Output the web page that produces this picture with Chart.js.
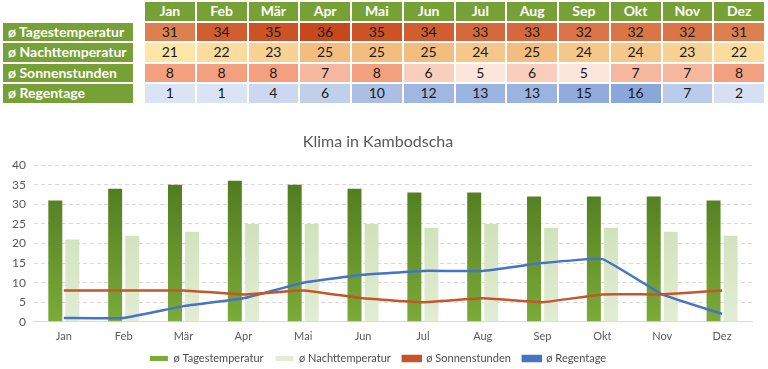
<!DOCTYPE html>
<html>
<head>
<meta charset="utf-8">
<script src="https://cdn.jsdelivr.net/npm/chart.js@4/dist/chart.umd.min.js"></script>
<style>
    html, body { margin: 0; padding: 0; background: #fff; width: 768px; height: 369px; overflow: hidden; font-family: Lato, sans-serif; }
    #tableWrap { position: absolute; left: 1px; top: 0; }
    table { border-collapse: separate; border-spacing: 2px; table-layout: fixed; }
    td { height: 18.5px; padding: 0; font-size: 14px; text-align: center; line-height: 18px; color: #1a1a1a; }
    td.lbl { width: 130px; background: #77a136; color: #fff; font-weight: bold; text-align: left; padding-left: 5px; box-sizing: border-box; }
    td.sp { width: 8px; }
    td.mon { width: 49.75px; background: #77a136; color: #fff; font-weight: bold; }
    td.val { width: 49.75px; }
    #chartWrap { position: absolute; left: 0; top: 112px; width: 768px; height: 262px; }
</style>
</head>
<body>
<div id="tableWrap"><table id="climateTable"></table></div>
<div id="chartWrap"><canvas id="klimaChart"></canvas></div>
<script>
    const months = ['Jan', 'Feb', 'Mär', 'Apr', 'Mai', 'Jun', 'Jul', 'Aug', 'Sep', 'Okt', 'Nov', 'Dez'];
    const tagesTemp = [31, 34, 35, 36, 35, 34, 33, 33, 32, 32, 32, 31];
    const nachtTemp = [21, 22, 23, 25, 25, 25, 24, 25, 24, 24, 23, 22];
    const sonnenStunden = [8, 8, 8, 7, 8, 6, 5, 6, 5, 7, 7, 8];
    const regenTage = [1, 1, 4, 6, 10, 12, 13, 13, 15, 16, 7, 2];
    const yTicks = [0, 5, 10, 15, 20, 25, 30, 35, 40];

    // Tabelle mit Farbskala pro Zeile
    const rows = [
        { label: 'ø Tagestemperatur', data: tagesTemp, low: [221, 128, 80], high: [199, 72, 28] },
        { label: 'ø Nachttemperatur', data: nachtTemp, low: [253, 230, 168], high: [243, 189, 128] },
        { label: 'ø Sonnenstunden', data: sonnenStunden, low: [252, 229, 218], high: [242, 160, 128] },
        { label: 'ø Regentage', data: regenTage, low: [219, 228, 244], high: [139, 167, 218] },
    ];

    function mix(low, high, t) {
        return 'rgb(' + low.map((c, i) => Math.round(c + (high[i] - c) * t)).join(',') + ')';
    }

    const table = document.getElementById('climateTable');
    let head = '<tr><td class="sp" style="width:130px"></td><td class="sp"></td>';
    months.forEach(m => { head += `<td class="mon">${m}</td>`; });
    table.innerHTML = head + '</tr>';
    rows.forEach(row => {
        const min = Math.min(...row.data);
        const max = Math.max(...row.data);
        let tr = `<tr><td class="lbl">${row.label}</td><td class="sp"></td>`;
        row.data.forEach(v => {
            tr += `<td class="val" style="background:${mix(row.low, row.high, (v - min) / (max - min))}">${v}</td>`;
        });
        table.innerHTML += tr + '</tr>';
    });

    // Verläufe für die Balken
    function gradient(ctx, top, bottom) {
        const area = ctx.chart.chartArea;
        if (!area) return bottom;
        const g = ctx.chart.ctx.createLinearGradient(0, area.top, 0, area.bottom);
        g.addColorStop(0, top);
        g.addColorStop(1, bottom);
        return g;
    }

    // Legende näher an die Achse rücken (weniger Abstand oben)
    const legendShift = 10;
    const tightLegend = {
        id: 'tightLegend',
        beforeInit(chart) {
            const fit = chart.legend.fit;
            chart.legend.fit = function () {
                fit.call(this);
                this.height -= legendShift;
            };
        },
        afterLayout(chart) {
            chart.legend.top -= legendShift;
            chart.legend.bottom -= legendShift;
        },
    };

    new Chart(document.getElementById('klimaChart'), {
        data: {
            labels: months,
            datasets: [
                {
                    type: 'bar', label: 'ø Tagestemperatur', data: tagesTemp, order: 2,
                    backgroundColor: ctx => gradient(ctx, '#4b761d', '#7bab38'),
                    categoryPercentage: 0.57, barPercentage: 0.82,
                },
                {
                    type: 'bar', label: 'ø Nachttemperatur', data: nachtTemp, order: 2,
                    backgroundColor: ctx => gradient(ctx, '#c6dbab', '#e2edd4'),
                    categoryPercentage: 0.57, barPercentage: 0.82,
                },
                {
                    type: 'line', label: 'ø Sonnenstunden', data: sonnenStunden, order: 1,
                    borderColor: '#c5562a', backgroundColor: '#c5562a', borderWidth: 2.5,
                    pointRadius: 0, tension: 0.1,
                },
                {
                    type: 'line', label: 'ø Regentage', data: regenTage, order: 1,
                    borderColor: '#4673c3', backgroundColor: '#4673c3', borderWidth: 2.5,
                    pointRadius: 0, tension: 0.1,
                },
            ]
        },
        plugins: [tightLegend],
        options: {
            responsive: true,
            maintainAspectRatio: false,
            animation: false,
            layout: { padding: { left: 4, right: 16, top: 0, bottom: 0 } },
            plugins: {
                title: {
                    display: true, text: 'Klima in Kambodscha', color: '#595959',
                    font: { family: 'Lato', size: 16, weight: 'normal' },
                    padding: { top: 20, bottom: 14 },
                },
                legend: {
                    position: 'bottom',
                    labels: {
                        sort: (a, b) => a.datasetIndex - b.datasetIndex,
                        boxWidth: 18, boxHeight: 5, padding: 12,
                        color: '#4d4d4d', font: { family: 'Lato', size: 11 },
                    },
                },
                tooltip: { enabled: false },
            },
            scales: {
                x: {
                    grid: { display: false, tickLength: 0 },
                    border: { color: '#d9d9d9' },
                    ticks: { color: '#595959', font: { family: 'Lato', size: 11 }, padding: 8 },
                },
                y: {
                    min: 0, max: 40,
                    afterBuildTicks: axis => { axis.ticks = yTicks.map(v => ({ value: v })); },
                    grid: { color: '#d9d9d9', tickLength: 0 },
                    border: { display: false, dash: [4, 3] },
                    ticks: { color: '#595959', font: { family: 'Lato', size: 12 }, padding: 8, autoSkip: false },
                },
            },
        },
    });
</script>
</body>
</html>
